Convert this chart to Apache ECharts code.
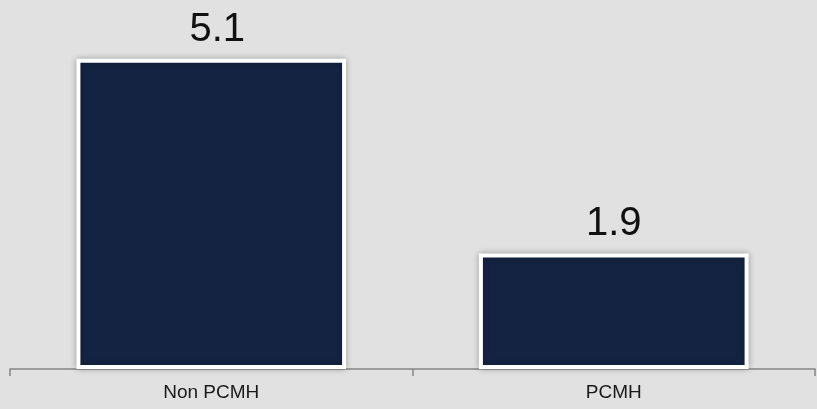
<!DOCTYPE html>
<html>
<head>
<meta charset="utf-8">
<script src="https://cdn.jsdelivr.net/npm/echarts@6/dist/echarts.min.js"></script>
<style>
  html, body { margin: 0; padding: 0; background: #e1e1e1; }
  #chart { width: 817px; height: 409px; }
</style>
</head>
<body>
<div id="chart"></div>
<script>
// Groups compared and their values
const categories = ['Non PCMH', 'PCMH'];
const values = [5.1, 1.9];
// Small horizontal nudges for the value labels
const labelShift = [6, 0];

const chart = echarts.init(document.getElementById('chart'));
chart.setOption({
  backgroundColor: '#e1e1e1',
  animation: false,
  grid: { left: 10, right: 2, top: 4, bottom: 40, containLabel: false },
  xAxis: {
    type: 'category',
    data: categories,
    boundaryGap: true,
    axisLine: { lineStyle: { color: '#858585', width: 1.5 } },
    axisTick: { show: true, length: 7, lineStyle: { color: '#858585', width: 1.5 } },
    axisLabel: {
      color: '#1a1a1a',
      fontFamily: 'Liberation Sans, Arial, sans-serif',
      fontSize: 19,
      margin: 14
    }
  },
  yAxis: {
    type: 'value',
    min: 0,
    max: 6,
    show: false,
    splitLine: { show: false }
  },
  series: [{
    type: 'bar',
    data: values.map((v, i) => ({ value: v, label: { offset: [labelShift[i], 0] } })),
    barWidth: '67%',
    itemStyle: {
      color: '#132341',
      borderColor: '#ffffff',
      borderWidth: 4,
      shadowColor: 'rgba(0,0,0,0.25)',
      shadowBlur: 6
    },
    label: {
      show: true,
      position: 'top',
      distance: 9,
      color: '#111111',
      fontFamily: 'Liberation Sans, Arial, sans-serif',
      fontSize: 40,
      formatter: p => p.value.toFixed(1)
    }
  }]
});
</script>
</body>
</html>
